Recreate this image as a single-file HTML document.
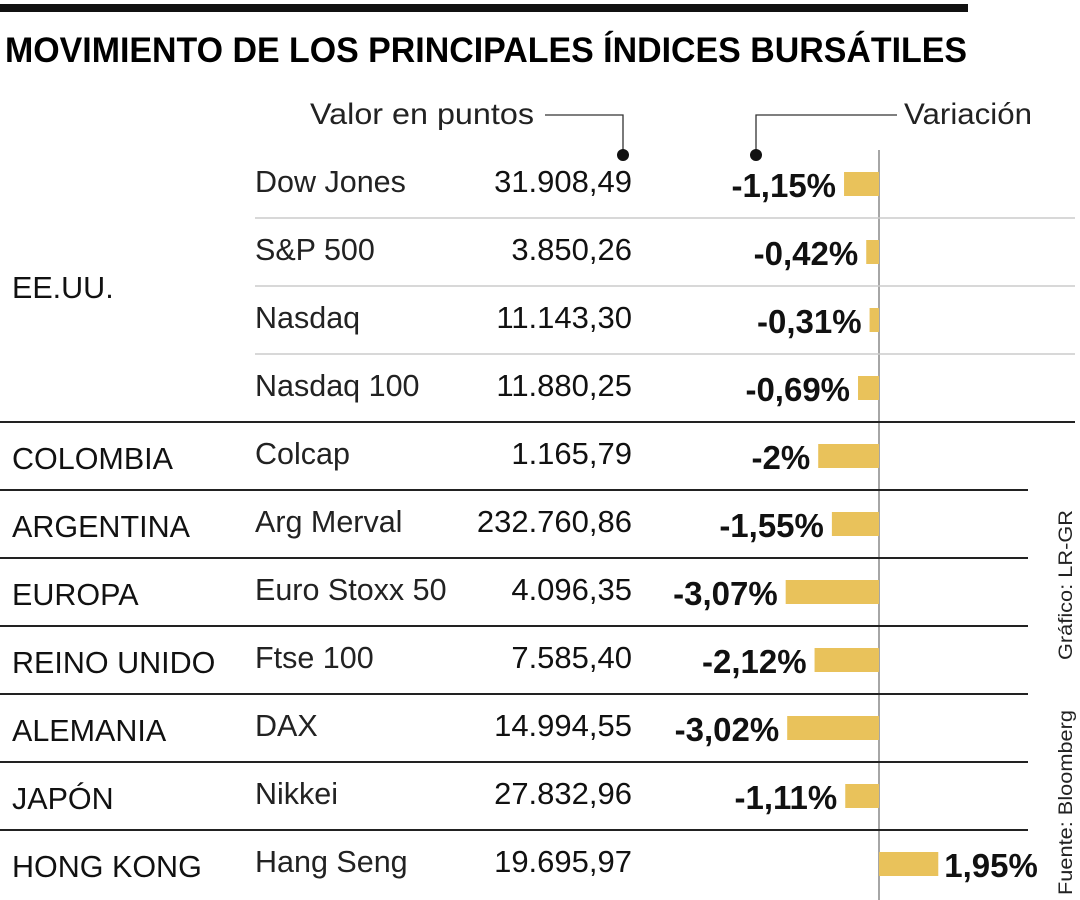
<!DOCTYPE html>
<html><head><meta charset="utf-8"><style>
body{margin:0;background:#fff;}
svg{display:block;font-family:"Liberation Sans",sans-serif;}
</style></head><body>
<svg id="chart" width="1080" height="900">
<rect x="0" y="4" width="968" height="8" fill="#111"/>
<text x="5" y="62" font-size="35" font-weight="bold" textLength="962" lengthAdjust="spacingAndGlyphs">MOVIMIENTO DE LOS PRINCIPALES ÍNDICES BURSÁTILES</text>
<text x="534" y="124" font-size="30" font-weight="300" text-anchor="end" fill="#222" textLength="224" lengthAdjust="spacingAndGlyphs">Valor en puntos</text>
<path d="M545 115 H623 V155" fill="none" stroke="#333" stroke-width="1.3"/>
<circle cx="623" cy="155" r="6" fill="#111"/>
<text x="904" y="124" font-size="30" fill="#222" textLength="128" lengthAdjust="spacingAndGlyphs">Variación</text>
<path d="M897 115 H756 V155" fill="none" stroke="#333" stroke-width="1.3"/>
<circle cx="756" cy="155" r="6" fill="#111"/>
<line x1="879" y1="150" x2="879" y2="900" stroke="#888" stroke-width="1.5"/>
<text transform="translate(1072,660) rotate(-90)" font-size="19" fill="#222" textLength="150" lengthAdjust="spacingAndGlyphs">Gráfico: LR-GR</text>
<text transform="translate(1072,895) rotate(-90)" font-size="19" fill="#222" textLength="185" lengthAdjust="spacingAndGlyphs">Fuente: Bloomberg</text>
<g id="rows"></g>
</svg>
<script>
const indexNames = ["Dow Jones","S&P 500","Nasdaq","Nasdaq 100","Colcap","Arg Merval","Euro Stoxx 50","Ftse 100","DAX","Nikkei","Hang Seng"];
const regions = ["EE.UU.","","","","COLOMBIA","ARGENTINA","EUROPA","REINO UNIDO","ALEMANIA","JAPÓN","HONG KONG"];
const pointValues = ["31.908,49","3.850,26","11.143,30","11.880,25","1.165,79","232.760,86","4.096,35","7.585,40","14.994,55","27.832,96","19.695,97"];
const changes = [-1.15,-0.42,-0.31,-0.69,-2,-1.55,-3.07,-2.12,-3.02,-1.11,1.95];
const changeLabels = ["-1,15%","-0,42%","-0,31%","-0,69%","-2%","-1,55%","-3,07%","-2,12%","-3,02%","-1,11%","1,95%"];

const NS="http://www.w3.org/2000/svg";
const g=document.getElementById('rows');
const x0=879, pxPerPct=30.4;
const xScale=v=>x0+v*pxPerPct;
const yScale=i=>184+i*68;
function mk(tag,attrs,txt){const e=document.createElementNS(NS,tag);for(const k in attrs)e.setAttribute(k,attrs[k]);if(txt!=null)e.textContent=txt;g.appendChild(e);return e;}

changes.forEach((v,i)=>{
  const cy=yScale(i);
  if(i>=1&&i<=3){
    const l=mk('line',{x1:255,x2:1075,y1:cy-34,y2:cy-34,stroke:'#ccc','stroke-width':1.5});
    
    
  }
  if(i>=4){
    const l=mk('line',{x1:0,x2:i==4?1075:1028,y1:cy-34,y2:cy-34,stroke:'#222','stroke-width':2});
    
    
  }
  if(regions[i]){
    const ry=i==0?298:cy+13;
    const t=mk('text',{x:12,y:ry,'font-size':30.5,fill:'#111'},regions[i]);
    
    
  }
  const n=mk('text',{x:255,y:cy+8,'font-size':30.5,fill:'#222'},indexNames[i]);
  
  
  const pv=mk('text',{x:632,y:cy+8,'font-size':31,'text-anchor':'end',fill:'#111'},pointValues[i]);
  
  
  const xv=xScale(v);
  const b=mk('rect',{x:Math.min(xv,x0),y:cy-12,width:Math.abs(xv-x0),height:24,fill:'#e9c25b'});
  
  
  const lab=v<0?mk('text',{x:Math.min(xv,x0)-8,y:cy+13,'font-size':33,'font-weight':'bold','text-anchor':'end',fill:'#111'},changeLabels[i])
               :mk('text',{x:xv+6,y:cy+13,'font-size':33,'font-weight':'bold',fill:'#111'},changeLabels[i]);
  
  
});
</script>
</body></html>
